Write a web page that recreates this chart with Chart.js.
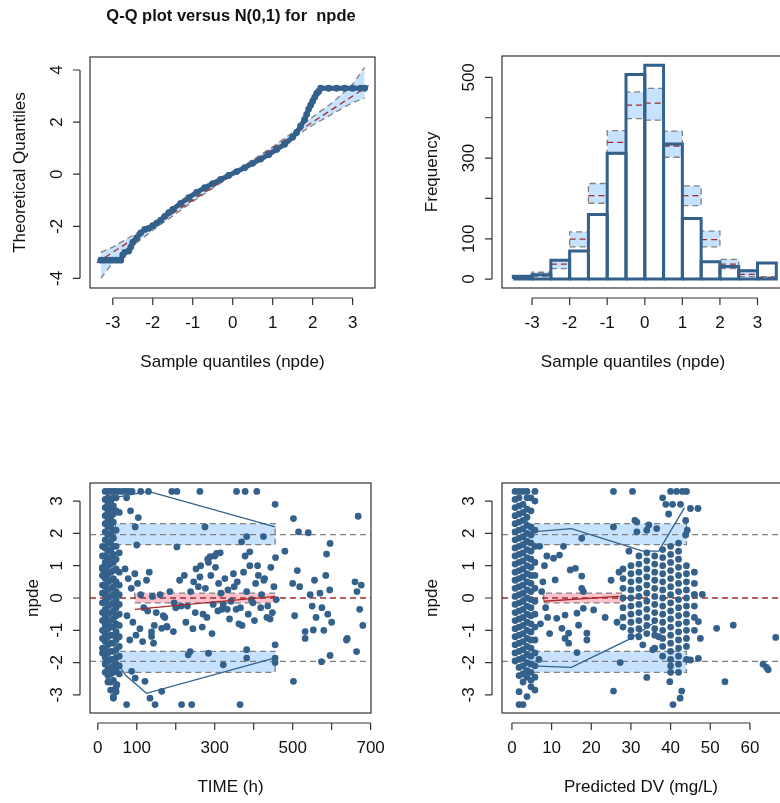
<!DOCTYPE html>
<html>
<head>
<meta charset="utf-8">
<script src="https://cdn.jsdelivr.net/npm/chart.js@4.4.1/dist/chart.umd.min.js"></script>
<style>
  html, body { margin: 0; padding: 0; background: #fff; width: 780px; height: 803px; overflow: hidden; }
  canvas { position: absolute; left: 0; top: 0; }
</style>
</head>
<body>
<canvas id="qq" width="840" height="803"></canvas>
<canvas id="hist" width="840" height="803"></canvas>
<canvas id="time" width="840" height="803"></canvas>
<canvas id="pred" width="840" height="803"></canvas>
<script>
// ---- data ----
// Q-Q plot: sample quantile (x) vs theoretical quantile (y)
const qqX = [-3.3, -3.2, -3.1, -3.0, -2.9, -2.8, -2.75, -2.7, -2.6, -2.55, -2.5, -2.4, -2.3, -2.2, -2.1, -2.0, -1.9, -1.8, -1.7, -1.6, -1.5, -1.3, -1.1, -0.9, -0.7, -0.5, -0.3, -0.1, 0.1, 0.3, 0.5, 0.7, 0.9, 1.1, 1.3, 1.5, 1.6, 1.7, 1.8, 1.85, 1.9, 1.95, 2.0, 2.05, 2.1, 2.15, 2.2, 2.4, 2.6, 2.8, 3.0, 3.2, 3.3];
const qqY = [-3.3, -3.3, -3.3, -3.3, -3.3, -3.3, -3.1, -3.0, -2.95, -2.8, -2.62, -2.45, -2.25, -2.12, -2.08, -1.98, -1.88, -1.76, -1.62, -1.48, -1.35, -1.12, -0.9, -0.7, -0.52, -0.36, -0.2, -0.05, 0.1, 0.25, 0.42, 0.58, 0.75, 0.95, 1.15, 1.42, 1.6, 1.85, 2.1, 2.3, 2.5, 2.65, 2.8, 2.95, 3.1, 3.18, 3.3, 3.3, 3.3, 3.3, 3.3, 3.3, 3.3];
const qqBandX = [-3.3, -3.0, -2.5, -2.0, -1.5, -1.0, 0, 1.0, 1.5, 2.0, 2.5, 3.0, 3.3];
const qqBandLo = [-4.0, -3.4, -2.75, -2.15, -1.6, -1.05, -0.03, 0.95, 1.4, 1.88, 2.32, 2.75, 2.92];
const qqBandHi = [-3.0, -2.8, -2.35, -1.88, -1.4, -0.95, 0.03, 1.05, 1.6, 2.2, 2.75, 3.45, 4.1];
const qqMedX = [-3.4, 3.4];
const qqMedY = [-3.4, 3.4];

// histogram of npde, bins of 0.5 from -3.5 to 3.5
const histEdges = [-3.5, -3.0, -2.5, -2.0, -1.5, -1.0, -0.5, 0, 0.5, 1.0, 1.5, 2.0, 2.5, 3.0, 3.5];
const histCounts = [7, 11, 47, 70, 160, 312, 507, 530, 335, 150, 43, 31, 21, 40];
const histLo = [1, 6, 26, 80, 188, 310, 398, 394, 302, 182, 80, 26, 6, 1];
const histMed = [3, 10, 37, 99, 207, 339, 431, 436, 330, 207, 98, 37, 12, 4];
const histHi = [6, 17, 47, 117, 237, 368, 464, 473, 367, 231, 119, 49, 22, 6];

// npde vs TIME (h): dense early column, given as x positions with their y values
const timeColX = [12, 19, 26, 33, 40, 47, 55];
const timeColY = [
  [1.6, 1.3, 0.95, 0.7, 0.4, 0.15, -0.15, -0.45, -0.7, -1.0, -1.25, -1.55, -1.7, 0.9],
  [3.3, 3.05, 2.8, 2.55, 2.3, 2.05, 1.8, 1.55, 1.3, 1.1, 0.85, 0.6, 0.35, 0.1, -0.1, -0.35, -0.6, -0.85, -1.1, -1.35, -1.6, -1.85, -2.05, -2.3],
  [3.3, 3.1, 2.9, 2.65, 2.4, 2.2, 1.95, 1.7, 1.45, 1.2, 1.0, 0.75, 0.5, 0.25, 0.0, -0.25, -0.5, -0.75, -0.95, -1.2, -1.45, -1.7, -1.95, -2.2, -2.4, -2.6],
  [3.3, 3.0, 2.75, 2.5, 2.25, 2.0, 1.75, 1.5, 1.25, 1.05, 0.8, 0.55, 0.3, 0.05, -0.2, -0.45, -0.7, -0.9, -1.15, -1.4, -1.65, -1.9, -2.15, -2.35, -2.6, -2.85],
  [3.3, 3.1, 2.85, 2.6, 2.35, 2.1, 1.85, 1.6, 1.35, 1.1, 0.85, 0.6, 0.35, 0.1, -0.15, -0.4, -0.65, -0.9, -1.15, -1.4, -1.65, -1.9, -2.1, -2.3, -2.55, -2.85, -3.05],
  [3.3, 3.1, 2.7, 2.1, 1.6, 1.2, 0.9, 0.5, 0.2, -0.05, -0.3, -0.55, -0.8, -1.05, -1.3, -1.6, -1.85, -2.05, -2.25, -2.75, -2.9],
  [3.3, 2.65, 1.4, 0.8, 0.4, 0.1, -0.2, -0.5, -0.85, -1.2, -1.5, -1.8, -2.1, -2.35]
];
const timeX = [65, 72, 80, 88, 74, 84, 96, 110, 130, 104, 100, 275, 356, 378, 408, 190, 203, 262, 455, 502, 515, 540, 668, 596, 587, 480, 369, 382, 425, 390, 203, 288, 305, 314,
  70, 78, 86, 95, 102, 110, 118, 125, 132, 140, 150, 160, 172, 185, 196, 210, 222, 230, 238, 246, 252, 258, 264, 270, 276, 282, 290, 296, 302, 310, 318, 326, 334, 342, 350, 358, 366, 374, 382, 390, 398, 405, 412, 420, 428, 436, 444, 452, 458,
  75, 90, 108, 128, 145, 168, 200, 226, 250, 268, 280, 293, 308, 322, 338, 355, 370, 386, 402, 418, 434, 448,
  82, 98, 115, 138, 178, 214, 244, 262, 284, 300, 316, 332, 348, 362, 378, 394, 410, 426, 442, 456,
  500, 505, 512, 518, 545, 550, 556, 560, 570, 575, 580, 585, 590, 595, 600, 640, 660, 665, 672, 676, 680,
  664, 574, 596, 502, 455, 455, 455, 638, 532, 532, 553, 322, 284, 232, 237, 382, 382, 365, 215, 241, 147, 134, 164, 121, 96, 87, 74, 49, 40, 143, 138, 164, 194, 177];
const timeY = [3.3, 3.3, 3.3, 3.3, 3.1, 2.7, 2.2, 3.3, 3.3, 2.49, 1.64, 2.2, 3.3, 3.3, 3.3, 3.3, 3.3, 3.3, 2.9, 2.46, 2.05, 2.02, 2.53, 1.69, 1.36, 1.45, 1.74, 1.9, 1.9, 1.43, 1.58, 1.28, 1.38, 1.4,
  0.9, 0.6, 0.3, 0.75, 0.45, 0.1, -0.3, 0.55, 0.8, 0.05, -0.45, 0.1, -0.6, 0.2, -0.15, 0.55, 0.7, -0.25, 0.2, 0.5, 0.9, 0.35, 1.0, -0.5, 0.3, 1.2, 0.7, -0.2, 0.95, 0.45, -0.35, 0.6, 0.25, -0.1, 0.35, 0.5, -0.3, 0.8, 0.2, 1.0, -0.15, 0.45, 0.7, 0.1, 0.6, -0.25, 0.95, 0.35, -0.05,
  -0.55, -0.75, -0.95, -0.4, -0.85, -0.55, -0.3, -0.75, -0.45, -0.9, -0.6, -1.1, -0.4, -0.2, -0.65, -0.35, -0.85, -0.5, -0.7, -0.3, -0.6, -0.45,
  -1.3, -1.15, -1.35, -1.05, -0.9, -0.25, -0.95, 0.65, 1.1, 1.3, 0.15, -0.35, 0.75, -0.8, 1.3, -0.05, 1.0, 0.55, -0.65, 1.25,
  0.45, -0.55, 0.85, 0.35, 0.1, -0.25, 0.55, -0.6, 0.15, -0.3, -1.0, 0.7, -0.5, 0.25, -0.75, -1.25, 0.5, 0.2, -0.35, 0.4, -0.85,
  -1.66, -1.97, -1.78, -2.58, -1.45, -2.0, -1.86, -1.3, -1.25, -1.04, -0.99, -2.07, -1.71, -1.76, -1.66, -1.86, -1.6, -3.3, -3.3, -3.3, -3.3, -3.1, -2.89, -2.58, -2.48, -2.27, -3.3, -2.68, -3.1, -1.4, -1.19, -0.94, -1.04, -0.88];
const timeBandX = [45, 455];
const timeMidBandX = [95, 455];
const timeUpX = [40, 130, 455];
const timeUpY = [3.1, 3.3, 2.2];
const timeLowX = [55, 72, 125, 455];
const timeLowY = [-2.1, -2.4, -2.95, -1.85];
const timeMedX = [95, 455];
const timeMedY = [-0.35, 0.05];

// npde vs predicted DV (mg/L)
const predColX = [0.8, 1.8, 2.8, 3.8, 4.8, 5.8];
const predColY = [
  [3.3, 3.05, 2.8, 2.55, 2.3, 2.05, 1.8, 1.55, 1.3, 1.05, 0.8, 0.55, 0.3, 0.05, -0.2, -0.45, -0.7, -0.95, -1.2, -1.45, -1.7, -1.95],
  [3.3, 3.1, 2.85, 2.6, 2.35, 2.1, 1.85, 1.6, 1.35, 1.1, 0.85, 0.6, 0.35, 0.1, -0.15, -0.4, -0.65, -0.9, -1.15, -1.4, -1.65, -1.9, -2.15, -2.4, -2.9, -3.3],
  [3.3, 2.9, 2.65, 2.4, 2.15, 1.9, 1.65, 1.4, 1.15, 0.9, 0.65, 0.4, 0.15, -0.1, -0.35, -0.6, -0.85, -1.1, -1.35, -1.6, -1.85, -2.1, -2.35, -2.6, -3.3],
  [3.3, 3.1, 2.75, 2.5, 2.25, 2.0, 1.75, 1.5, 1.25, 1.0, 0.75, 0.5, 0.25, 0.0, -0.25, -0.5, -0.75, -1.0, -1.25, -1.5, -1.75, -2.0, -2.25, -2.45, -3.05],
  [3.1, 2.7, 2.2, 1.95, 1.7, 1.45, 1.2, 0.95, 0.7, 0.45, 0.2, -0.05, -0.3, -0.55, -0.8, -1.05, -1.3, -1.55, -1.8, -2.05, -2.3, -2.55, -2.75],
  [3.3, 3.0, 2.1, 1.6, 1.1, 0.7, 0.3, -0.1, -0.5, -0.9, -1.3, -1.7, -2.1, -2.45, -2.85]
];
const predCloudX = [28, 30, 32, 34, 36, 38, 40, 42, 44, 46];
const predCloudY = [
  [0.9, 0.6, 0.3, 0.0, -0.3, -0.6, -0.9],
  [1.0, 0.75, 0.5, 0.25, 0.0, -0.25, -0.5, -0.75, -1.0, -1.2],
  [1.3, 1.05, 0.8, 0.55, 0.3, 0.05, -0.2, -0.45, -0.7, -0.95, -1.2],
  [1.4, 1.15, 0.9, 0.65, 0.4, 0.15, -0.1, -0.35, -0.6, -0.85, -1.1],
  [1.3, 1.05, 0.8, 0.55, 0.3, 0.05, -0.2, -0.45, -0.7, -0.95, -1.15, -1.55],
  [1.5, 1.25, 1.0, 0.75, 0.5, 0.25, 0.0, -0.25, -0.5, -0.75, -1.0, -1.25, -1.5, -1.8],
  [1.6, 1.35, 1.1, 0.85, 0.6, 0.35, 0.1, -0.15, -0.4, -0.65, -0.9, -1.15, -1.4, -1.65, -1.9, -2.1, -2.3],
  [1.7, 1.45, 1.2, 0.95, 0.7, 0.45, 0.2, -0.05, -0.3, -0.55, -0.8, -1.05, -1.3, -1.55, -1.8, -2.05, -2.3],
  [1.0, 0.75, 0.5, 0.25, 0.0, -0.25, -0.5, -0.75, -1.0, -1.25, -1.5, -1.9],
  [0.8, 0.45, 0.1, -0.25, -0.6, -1.0]
];
const predX = [25.6, 30.4, 40, 41.5, 43, 44, 38, 38.8, 40.5, 42.5, 45, 46.9, 39.5, 43.8, 31, 31.5, 34, 36.5, 34.5, 43.8, 44.2, 25.6, 17.6, 13, 12, 10.5, 10.9, 14.7, 16, 17.6, 17.6, 18,
  20.6, 18, 16.4, 13.4, 11.3, 16.8, 12.6, 14.3, 13.4, 14.3, 18.9, 18.9, 16.4, 27.3, 25.6, 34, 39.8, 40.6, 42.4, 42.8, 51.6, 55.8, 53.7, 63.3, 64.2, 64.6, 66.5, 46, 48, 47, 47.5, 47, 45,
  7.0, 7.8, 8.5, 7.2, 8.8, 9.5, 7.5, 8.2, 9.0, 6.8, 23.5, 25, 26.5, 27, 29.5, 31.5, 33, 35.5, 37];
const predY = [3.3, 3.3, 3.3, 3.3, 3.3, 3.3, 3.1, 2.9, 2.9, 2.9, 2.77, 2.77, 2.6, 2.4, 2.4, 2.05, 2.1, 2.15, 2.26, 1.95, 2.1, 2.2, 1.85, 1.6, 1.33, 1.23, 0.56, 0.87, 0.92, 0.68, 0.3, 0.2,
  -0.37, -0.32, -0.47, -0.53, -0.63, -0.84, -0.94, -1.09, -1.25, -1.4, -1.09, -1.3, -1.69, -2.0, -2.88, -2.46, -2.59, -3.3, -3.1, -2.88, -0.94, -0.84, -2.59, -2.05, -2.15, -2.22, -1.22, 0.1, 0.11, -0.73, -1.25, -1.87, -1.92,
  1.6, 0.5, -0.3, -0.8, 1.3, -1.1, 0.2, 1.0, -0.6, -1.9, -0.6, 0.55, -0.75, 0.8, 1.45, 2.35, -1.45, -1.6, -1.2];
const predBandX = [3, 44];
const predMidBandX = [8, 28];
const predUpX = [3, 5, 15, 33, 37, 43.5];
const predUpY = [2.6, 2.05, 2.15, 1.45, 1.45, 2.8];
const predLowX = [5, 15, 30, 36];
const predLowY = [-2.1, -2.15, -1.25, -0.75];
const predMedX = [8, 27];
const predMedY = [-0.1, 0.05];

const npdeTicks = [-3, -2, -1, 0, 1, 2, 3];
const qqXTicks = [-3, -2, -1, 0, 1, 2, 3];
const qqYTicks = [-4, -2, 0, 2, 4];
const histYTicks = [0, 100, 300, 500];
const histYMinor = [0, 100, 200, 300, 400, 500];
const timeTicks = [0, 100, 200, 300, 400, 500, 600, 700];
const timeTickLabels = ['0', '100', '', '300', '', '500', '', '700'];
const predTicks = [0, 10, 20, 30, 40, 50, 60];

// ---- styling ----
const PT = '#34618B';
const BAND = '#C7E2FF';
const PINK = '#FFC1CC';
const GREY = '#808080';
const DARKRED = '#A52A2A';
const FONT = '"Liberation Sans", Arial, sans-serif';
const W = 840, H = 803;

function pts(xs, ys) { return xs.map((x, i) => ({ x: x, y: ys[i] })); }
function colPts(cx, cy) {
  const out = [];
  cx.forEach((x, i) => cy[i].forEach(y => out.push({ x: x, y: y })));
  return out;
}
function line(data, color, width, dash, extra) {
  return Object.assign({ type: 'line', data: data, borderColor: color, borderWidth: width,
    borderDash: dash || [], pointRadius: 0, fill: false, tension: 0, spanGaps: false }, extra || {});
}
function rectFill(x0, x1, y0, y1, color) {
  return line([{ x: x0, y: y0 }, { x: x1, y: y0 }], 'rgba(0,0,0,0)', 0, [], {
    fill: { value: y1 }, backgroundColor: color });
}
function rectEdges(x0, x1, y0, y1, color) {
  return line([{ x: x0, y: y0 }, { x: x1, y: y0 }, { x: x1, y: y1 }, { x: x0, y: y1 }, { x: x0, y: y0 }], color, 1.3, [6, 4]);
}
function scatter(data) {
  return { type: 'scatter', data: data, backgroundColor: PT, borderColor: PT, pointRadius: 3.4, borderWidth: 0 };
}

// R-like axes drawn with the chart's own scales
function rAxes(cfg) {
  return {
    id: 'rAxes',
    afterDraw(chart) {
      const { ctx, chartArea: a, scales } = chart;
      const sx = scales.x, sy = scales.y;
      ctx.save();
      ctx.strokeStyle = '#333'; ctx.lineWidth = 1.2;
      ctx.strokeRect(a.left, a.top, a.right - a.left, a.bottom - a.top);
      ctx.fillStyle = '#111';
      ctx.font = '17px ' + FONT;
      // x axis
      const xs = cfg.xTicks.map(v => sx.getPixelForValue(v));
      const yb = a.bottom + 10;
      ctx.beginPath(); ctx.moveTo(xs[0], yb); ctx.lineTo(xs[xs.length - 1], yb);
      xs.forEach(p => { ctx.moveTo(p, yb); ctx.lineTo(p, yb + 7); });
      ctx.stroke();
      ctx.textAlign = 'center'; ctx.textBaseline = 'middle';
      xs.forEach((p, i) => { const t = cfg.xLabels ? cfg.xLabels[i] : String(cfg.xTicks[i]); if (t) ctx.fillText(t, p, a.bottom + 35); });
      ctx.fillText(cfg.xTitle, (a.left + Math.min(a.right, 780)) / 2 + (cfg.xTitleShift || 0), a.bottom + 74);
      // y axis
      const ys = cfg.yTicks.map(v => sy.getPixelForValue(v));
      const xl = a.left - 10;
      ctx.beginPath(); ctx.moveTo(xl, ys[0]); ctx.lineTo(xl, ys[ys.length - 1]);
      (cfg.yMinor || cfg.yTicks).forEach(v => { const p = sy.getPixelForValue(v); ctx.moveTo(xl, p); ctx.lineTo(xl - 7, p); });
      ctx.stroke();
      ys.forEach((p, i) => {
        ctx.save(); ctx.translate(a.left - 33, p); ctx.rotate(-Math.PI / 2);
        ctx.fillText(String(cfg.yTicks[i]), 0, 0); ctx.restore();
      });
      ctx.save(); ctx.translate(cfg.yTitleX, (a.top + a.bottom) / 2); ctx.rotate(-Math.PI / 2);
      ctx.fillText(cfg.yTitle, 0, 0); ctx.restore();
      if (cfg.title) {
        ctx.font = 'bold 16.5px ' + FONT;
        ctx.fillText(cfg.title, 231, 16);
      }
      ctx.restore();
    }
  };
}

function makePanel(id, box, range, datasets, axes) {
  // Chart.js paints dataset 0 last (on top); list order here is bottom-to-top
  return new Chart(document.getElementById(id), {
    type: 'scatter',
    data: { datasets: datasets.slice().reverse() },
    options: {
      responsive: false, animation: false, events: [],
      layout: { padding: { left: box[0], top: box[1], right: W - box[2], bottom: H - box[3] } },
      plugins: { legend: { display: false }, tooltip: { enabled: false } },
      scales: {
        x: { type: 'linear', display: false, min: range[0], max: range[1] },
        y: { type: 'linear', display: false, min: range[2], max: range[3] }
      }
    },
    plugins: [rAxes(axes)]
  });
}

// ---- top left: Q-Q plot ----
// (list is reversed before drawing, so '+1' on the upper bound points at the lower bound)
makePanel('qq', [90, 57, 375, 288], [-3.57, 3.56, -4.37, 4.5], [
  line(pts(qqBandX, qqBandLo), 'rgba(0,0,0,0)', 0),
  line(pts(qqBandX, qqBandHi), 'rgba(0,0,0,0)', 0, [], { fill: '+1', backgroundColor: BAND }),
  line(pts(qqBandX, qqBandHi), GREY, 1.3, [6, 4]),
  line(pts(qqBandX, qqBandLo), GREY, 1.3, [6, 4]),
  line(pts(qqMedX, qqMedY), DARKRED, 1.3, [6, 4]),
  line(pts(qqX, qqY), PT, 5, [], { pointRadius: 3.4, pointBackgroundColor: PT, pointBorderWidth: 0 })
], { xTicks: qqXTicks, yTicks: qqYTicks, xTitle: 'Sample quantiles (npde)', yTitle: 'Theoretical Quantiles', yTitleX: 20,
     title: 'Q-Q plot versus N(0,1) for  npde' });

// ---- top right: histogram ----
const histDs = [];
histCounts.forEach((c, i) => {
  const x0 = histEdges[i], x1 = histEdges[i + 1];
  histDs.push(rectFill(x0, x1, histLo[i], histHi[i], BAND));
});
histCounts.forEach((c, i) => {
  const x0 = histEdges[i], x1 = histEdges[i + 1];
  histDs.push(rectEdges(x0, x1, histLo[i], histHi[i], GREY));
  histDs.push(line([{ x: x0, y: histMed[i] }, { x: x1, y: histMed[i] }], DARKRED, 1.3, [6, 4]));
});
histCounts.forEach((c, i) => {
  const x0 = histEdges[i], x1 = histEdges[i + 1];
  histDs.push(line([{ x: x0, y: 0 }, { x: x0, y: c }, { x: x1, y: c }, { x: x1, y: 0 }, { x: x0, y: 0 }], PT, 3, []));
});
makePanel('hist', [502, 56, 815, 288], [-3.8, 4.53, -22, 553], histDs,
  { xTicks: npdeTicks, yTicks: histYTicks, yMinor: histYMinor, xTitle: 'Sample quantiles (npde)', yTitle: 'Frequency', yTitleX: 432, xTitleShift: -8 });

// ---- bottom panels: npde vs x ----
function npdePanel(id, box, range, cols, cloud, extra, bandX, midX, up, low, med, xTicks, xLabels, xTitle, yTitleX) {
  const full = [range[0], range[1]];
  return makePanel(id, box, [range[0], range[1], -3.56, 3.56], [
    rectFill(bandX[0], bandX[1], 1.65, 2.3, BAND),
    rectFill(bandX[0], bandX[1], -2.3, -1.65, BAND),
    rectFill(midX[0], midX[1], -0.15, 0.15, PINK),
    rectEdges(bandX[0], bandX[1], 1.65, 2.3, GREY),
    rectEdges(bandX[0], bandX[1], -2.3, -1.65, GREY),
    rectEdges(midX[0], midX[1], -0.15, 0.15, GREY),
    line(pts(full, [1.96, 1.96]), GREY, 1.3, [6, 4]),
    line(pts(full, [-1.96, -1.96]), GREY, 1.3, [6, 4]),
    line(pts(full, [0, 0]), DARKRED, 1.3, [6, 4]),
    scatter(cols.concat(cloud, extra)),
    line(pts(up[0], up[1]), PT, 1.3),
    line(pts(low[0], low[1]), PT, 1.3),
    line(pts(med[0], med[1]), DARKRED, 1.3)
  ], { xTicks: xTicks, xLabels: xLabels, yTicks: npdeTicks, xTitle: xTitle, yTitle: 'npde', yTitleX: yTitleX });
}

npdePanel('time', [90, 483, 371, 713], [-20, 701],
  colPts(timeColX, timeColY), [], pts(timeX, timeY),
  timeBandX, timeMidBandX, [timeUpX, timeUpY], [timeLowX, timeLowY], [timeMedX, timeMedY],
  timeTicks, timeTickLabels, 'TIME (h)', 33);

npdePanel('pred', [502, 483, 815, 713], [-2.5, 76.4],
  colPts(predColX, predColY), colPts(predCloudX, predCloudY), pts(predX, predY),
  predBandX, predMidBandX, [predUpX, predUpY], [predLowX, predLowY], [predMedX, predMedY],
  predTicks, null, 'Predicted DV (mg/L)', 432);
</script>
</body>
</html>
